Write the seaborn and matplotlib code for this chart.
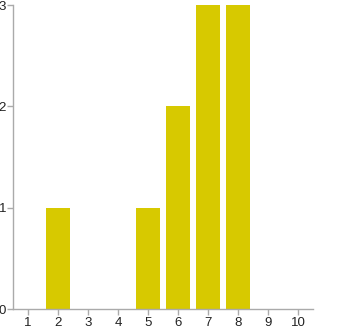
import matplotlib
matplotlib.use("Agg")
import matplotlib.pyplot as plt
import seaborn as sns
import pandas as pd

categories = ["1", "2", "3", "4", "5", "6", "7", "8", "9", "10"]
values = [0, 1, 0, 0, 1, 2, 3, 3, 0, 0]
yticks = [0, 1, 2, 3]

sns.set_style("white")
plt.rcParams['font.family'] = ['Liberation Sans', 'DejaVu Sans']

df = pd.DataFrame({"cat": categories, "val": values})

fig = plt.figure(figsize=(3.45, 3.3), dpi=100)
ax = fig.add_axes([13/345, 21/330, 300/345, 304/330])
sns.barplot(data=df, x="cat", y="val", order=categories, color="#d7c900",
            saturation=1, width=0.8, linewidth=0, edgecolor="none", ax=ax)
ax.set_xlim(-0.5, 9.5)
ax.set_ylim(0, 3)
ax.set_yticks(yticks)
ax.set_xlabel("")
ax.set_ylabel("")
for s in ["top", "right"]:
    ax.spines[s].set_visible(False)
for s in ["left", "bottom"]:
    ax.spines[s].set_color("#aaaaaa")
    ax.spines[s].set_linewidth(1)
ax.tick_params(axis="both", which="major", length=4, width=1, color="#aaaaaa",
               labelsize=9.5, labelcolor="#222222", pad=2, direction="out")
ax.tick_params(axis="y", pad=1)
ax.tick_params(left=True, bottom=True)
fig.savefig("out.png", dpi=100)
